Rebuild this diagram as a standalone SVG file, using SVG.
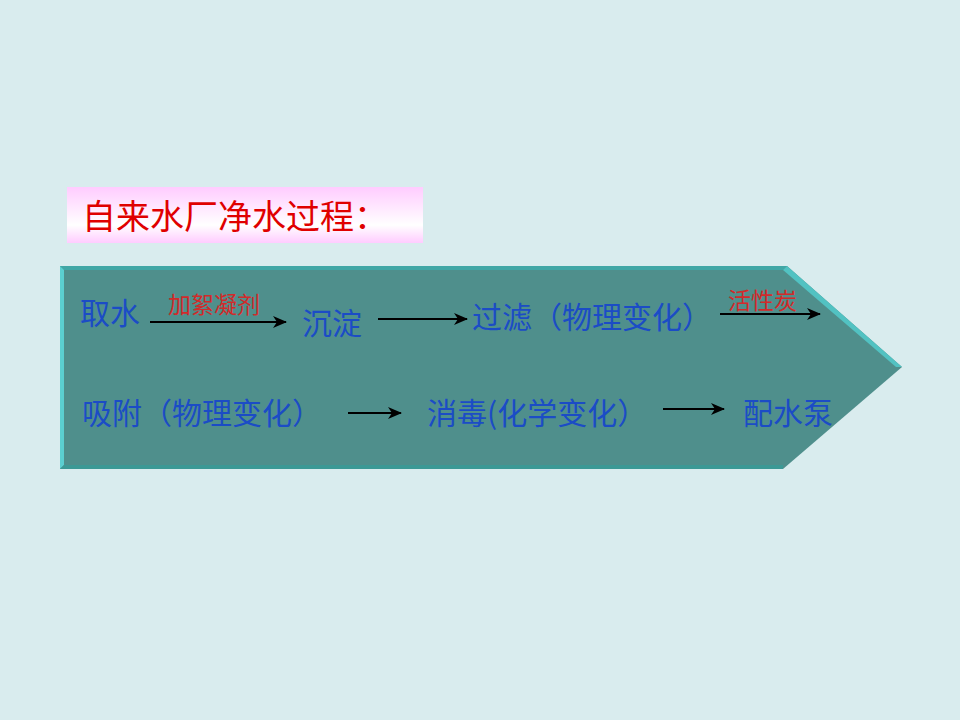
<svg xmlns="http://www.w3.org/2000/svg" width="960" height="720" viewBox="0 0 960 720">
<defs>
<linearGradient id="pink" x1="0" y1="0" x2="0" y2="1">
<stop offset="0" stop-color="#FFCCFF"/>
<stop offset="0.68" stop-color="#FFFFFF"/>
<stop offset="1" stop-color="#FFCCFF"/>
</linearGradient>
<marker id="ah" markerUnits="userSpaceOnUse" markerWidth="14" markerHeight="12" viewBox="0 0 14 12" refX="13" refY="6" orient="auto">
<path d="M0,0 L14,6 L0,12 L4,6 z" fill="#000"/>
</marker>
<style>
.blue{font-family:"Noto Sans CJK SC","Liberation Serif",serif;font-size:30px;fill:#1B4CC6}
.red{font-family:"Noto Sans CJK SC","Liberation Serif",serif;font-size:23px;fill:#D22A2A}
.title{font-family:"Noto Sans CJK SC","Liberation Serif",serif;font-size:34px;fill:#E00000}
.conn line{stroke:#000;stroke-width:2;marker-end:url(#ah)}
</style>
</defs>
<rect width="960" height="720" fill="#D9ECEE"/>
<g id="title">
<rect x="67" y="187" width="356" height="56" fill="url(#pink)"/>
<text class="title" x="82" y="229">自来水厂净水过程：</text>
</g>
<g id="panel">
<polygon points="60,266 787,266 902,367 783,469 60,469" fill="#4F8F8C"/>
<polygon points="60,266 787,266 783,270 64,270" fill="#41A7A6"/>
<polygon points="60,266 64,270 64,465 60,469" fill="#5BCFD0"/>
<polygon points="60,469 64,465 783,465 783,469" fill="#3C9995"/>
<polygon points="787,266 902,367 896,367 783,270" fill="#52C2C2"/>
</g>
<g id="n1"><text class="blue" x="80" y="324">取水</text></g>
<g id="n2"><text class="blue" x="302" y="334">沉淀</text></g>
<g id="n3"><text class="blue" x="472" y="328">过滤（物理变化）</text></g>
<g id="n4"><text class="blue" x="82" y="424">吸附（物理变化）</text></g>
<g id="n5"><text class="blue" x="427" y="424">消毒(化学变化）</text></g>
<g id="n6"><text class="blue" x="743" y="424">配水泵</text></g>
<g id="connectors" class="conn">
<line x1="150" y1="322" x2="286" y2="322"/>
<line x1="378" y1="319" x2="467" y2="319"/>
<line x1="720" y1="314" x2="820" y2="314"/>
<line x1="348" y1="413" x2="401" y2="413"/>
<line x1="663" y1="409" x2="724" y2="409"/>
<text class="red" x="168" y="313">加絮凝剂</text>
<text class="red" x="728" y="309">活性炭</text>
</g>
</svg>
